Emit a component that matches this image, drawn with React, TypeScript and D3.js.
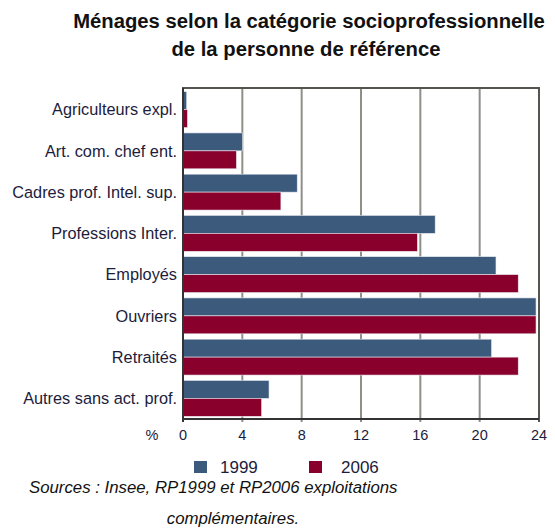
import { useEffect, useRef } from "react";
import * as d3 from "d3";

const categories = [
  "Agriculteurs expl.",
  "Art. com. chef ent.",
  "Cadres prof. Intel. sup.",
  "Professions Inter.",
  "Employés",
  "Ouvriers",
  "Retraités",
  "Autres sans act. prof.",
];
const values1999 = [0.25, 4.0, 7.7, 17.0, 21.1, 23.8, 20.8, 5.8];
const values2006 = [0.3, 3.6, 6.6, 15.8, 22.6, 23.8, 22.6, 5.3];
const xTicks = [0, 4, 8, 12, 16, 20, 24];
const seriesNames = ["1999", "2006"];
const seriesColors = ["#3c5a7c", "#8a002c"];

export default function App() {
  const svgRef = useRef<SVGSVGElement>(null);

  useEffect(() => {
    if (!svgRef.current) return;
    const width = 555;
    const height = 528;
    const svg = d3.select(svgRef.current);
    svg.selectAll("*").remove();
    svg.attr("width", width).attr("height", height);

    const left = 183;
    const right = 539;
    const top = 88;
    const bottom = 419;

    const x = d3.scaleLinear().domain([0, 24]).range([left, right]);
    const y = d3
      .scaleBand<string>()
      .domain(categories)
      .range([top + 1, bottom])
      .paddingInner(0.13)
      .paddingOuter(0.065);
    const inner = d3
      .scaleBand<string>()
      .domain(seriesNames)
      .range([0, y.bandwidth()]);

    const font = "'Liberation Sans', Arial, sans-serif";

    // title, squeezed a little to look narrow
    const titleLines = [
      { t: "Ménages selon la catégorie socioprofessionnelle", cx: 309, y: 28 },
      { t: "de la personne de référence", cx: 306, y: 56 },
    ];
    svg
      .append("g")
      .selectAll("text")
      .data(titleLines)
      .enter()
      .append("text")
      .attr("transform", (d) => `translate(${d.cx},${d.y}) scale(0.965,1)`)
      .attr("text-anchor", "middle")
      .style("font-family", font)
      .style("font-weight", "bold")
      .style("font-size", "21px")
      .style("fill", "#111")
      .text((d) => d.t);

    // grid lines
    svg
      .append("g")
      .selectAll("line")
      .data(xTicks.slice(1, -1))
      .enter()
      .append("line")
      .attr("x1", (d) => x(d))
      .attr("x2", (d) => x(d))
      .attr("y1", top)
      .attr("y2", bottom + 3)
      .style("stroke", "#8f8f88")
      .style("stroke-width", 2);

    // bars
    const rows = categories.map((c, i) => ({ c, v: [values1999[i], values2006[i]] }));
    const grp = svg
      .append("g")
      .selectAll("g")
      .data(rows)
      .enter()
      .append("g")
      .attr("transform", (d) => `translate(0,${y(d.c)})`);
    grp
      .selectAll("rect")
      .data((d) => d.v.map((v, k) => ({ v, s: seriesNames[k], k })))
      .enter()
      .append("rect")
      .attr("x", x(0))
      .attr("y", (d) => inner(d.s)!)
      .attr("width", (d) => x(d.v) - x(0))
      .attr("height", inner.bandwidth())
      .style("fill", (d) => seriesColors[d.k])
      .style("stroke", "#e8e8f0")
      .style("stroke-width", 0.6);

    // frame
    svg
      .append("path")
      .attr("d", `M${left},${bottom + 3}V${top}H${right}V${bottom + 3}`)
      .style("fill", "none")
      .style("stroke", "#555550")
      .style("stroke-width", 2);
    svg
      .append("line")
      .attr("x1", left)
      .attr("x2", right)
      .attr("y1", bottom)
      .attr("y2", bottom)
      .style("stroke", "#333")
      .style("stroke-width", 2);
    svg
      .append("line")
      .attr("x1", left)
      .attr("x2", left)
      .attr("y1", top)
      .attr("y2", bottom + 3)
      .style("stroke", "#333")
      .style("stroke-width", 2);

    // tick labels
    svg
      .append("g")
      .selectAll("text")
      .data(xTicks)
      .enter()
      .append("text")
      .attr("x", (d) => x(d))
      .attr("y", 440)
      .attr("text-anchor", "middle")
      .style("font-family", font)
      .style("font-size", "14.5px")
      .style("fill", "#1c1c3c")
      .text((d) => d);
    svg
      .append("text")
      .attr("x", 152)
      .attr("y", 440)
      .attr("text-anchor", "middle")
      .style("font-family", font)
      .style("font-size", "14.5px")
      .style("fill", "#1c1c3c")
      .text("%");

    // category labels
    svg
      .append("g")
      .selectAll("text")
      .data(categories)
      .enter()
      .append("text")
      .attr("x", 177)
      .attr("y", (d) => y(d)! + y.bandwidth() / 2)
      .attr("dy", "0.35em")
      .attr("text-anchor", "end")
      .style("font-family", font)
      .style("font-size", "16.3px")
      .style("fill", "#1c1c3c")
      .text((d) => d);

    // legend
    const legendX = [194, 309];
    const lg = svg
      .append("g")
      .selectAll("g")
      .data(seriesNames)
      .enter()
      .append("g")
      .attr("transform", (d, i) => `translate(${legendX[i]},461)`);
    lg.append("rect")
      .attr("width", 13)
      .attr("height", 12)
      .style("fill", (d, i) => seriesColors[i]);
    lg.append("text")
      .attr("x", (d, i) => (i === 0 ? 26 : 32))
      .attr("y", 12)
      .style("font-family", font)
      .style("font-size", "17px")
      .style("fill", "#1c1c3c")
      .text((d) => d);

    // sources
    const src = svg
      .append("text")
      .style("font-family", font)
      .style("font-style", "italic")
      .style("font-size", "16.8px")
      .style("fill", "#111");
    src.append("tspan").attr("x", 29).attr("y", 493).text("Sources : Insee, RP1999 et RP2006 exploitations");
    src
      .append("tspan")
      .attr("x", 233)
      .attr("y", 524)
      .attr("text-anchor", "middle")
      .text("complémentaires.");
  }, []);

  return (
    <div style={{ position: "absolute", left: 0, top: 0 }}>
      <svg ref={svgRef}></svg>
    </div>
  );
}
